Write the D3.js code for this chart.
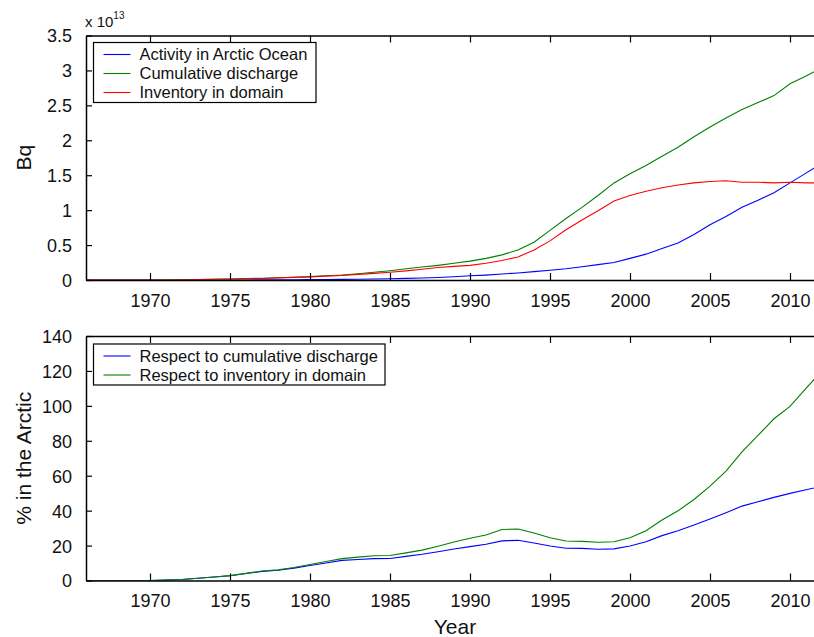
<!DOCTYPE html>
<html>
<head>
<meta charset="utf-8">
<script src="https://cdn.jsdelivr.net/npm/d3@7"></script>
<style>
  body { margin: 0; background: #fff; }
  svg { display: block; font-family: "Liberation Sans", Arial, sans-serif; }
</style>
</head>
<body>
<div id="chart"></div>
<script>
// годы наблюдений
const years = d3.range(1966, 2013);

// верхний график, единицы 1e13 Bq
const activityArctic = [
  0, 0, 0, 0, 0, 0, 0, 0, 0, 0,
  0.001, 0.002, 0.003, 0.004, 0.005, 0.007, 0.009, 0.011, 0.014, 0.018,
  0.023, 0.028, 0.035, 0.047, 0.06, 0.07, 0.085, 0.10, 0.12, 0.14,
  0.16, 0.19, 0.22, 0.25, 0.31, 0.37, 0.45, 0.53, 0.65, 0.79,
  0.91, 1.04, 1.14, 1.25, 1.39, 1.53, 1.67
];
const cumulativeDischarge = [
  0, 0, 0, 0, 0, 0, 0.005, 0.008, 0.011, 0.014,
  0.02, 0.026, 0.033, 0.04, 0.048, 0.06, 0.072, 0.09, 0.11, 0.133,
  0.16, 0.185, 0.21, 0.24, 0.27, 0.31, 0.36, 0.43, 0.54, 0.71,
  0.88, 1.04, 1.21, 1.39, 1.52, 1.64, 1.77, 1.90, 2.05, 2.19,
  2.32, 2.44, 2.54, 2.64, 2.81, 2.92, 3.04
];
const inventoryDomain = [
  0, 0, 0, 0, 0, 0, 0, 0.005, 0.01, 0.014,
  0.018, 0.022, 0.03, 0.038, 0.045, 0.055, 0.065, 0.08, 0.095, 0.11,
  0.13, 0.155, 0.18, 0.195, 0.21, 0.24, 0.28, 0.33, 0.43, 0.56,
  0.72, 0.86, 0.99, 1.13, 1.21, 1.27, 1.32, 1.36, 1.39, 1.41,
  1.42, 1.40, 1.40, 1.39, 1.40, 1.39, 1.39
];

// нижний график, %
const pctCumulative = [
  0, 0, 0, 0, 0, 0.2, 0.6, 1.3, 2.0, 2.7,
  4.0, 5.2, 5.9, 7.1, 8.6, 10.0, 11.5, 12.0, 12.5, 12.6,
  13.8, 15.0, 16.5, 18.0, 19.4, 20.8, 22.7, 23.0, 21.5, 19.8,
  18.5, 18.4, 17.9, 18.1, 19.8, 22.2, 25.7, 28.5, 31.8, 35.2,
  38.8, 42.6, 45.1, 47.6, 49.9, 52.0, 54.0
];
const pctInventory = [
  0, 0, 0, 0, 0, 0.2, 0.6, 1.3, 2.0, 2.8,
  4.1, 5.4, 6.1, 7.4, 9.2, 10.9, 12.5, 13.4, 14.2, 14.3,
  15.8, 17.4, 19.6, 22.0, 24.2, 26.1, 29.2, 29.5, 27.2, 24.5,
  22.6, 22.4, 21.9, 22.2, 24.5, 28.5, 34.6, 39.9, 46.4, 54.0,
  62.6, 73.6, 83.1, 92.6, 99.7, 110.0, 120.0
];

const xTicks = [1970, 1975, 1980, 1985, 1990, 1995, 2000, 2005, 2010];
const topTicks = [0, 0.5, 1, 1.5, 2, 2.5, 3, 3.5];
const bottomTicks = [0, 20, 40, 60, 80, 100, 120, 140];

const topSeries = [
  { name: "Activity in Arctic Ocean", values: activityArctic, color: "#0000ff" },
  { name: "Cumulative discharge", values: cumulativeDischarge, color: "#008000" },
  { name: "Inventory in domain", values: inventoryDomain, color: "#ff0000" }
];
const bottomSeries = [
  { name: "Respect to cumulative discharge", values: pctCumulative, color: "#0000ff" },
  { name: "Respect to inventory in domain", values: pctInventory, color: "#008000" }
];

const width = 814, height = 637;
const svg = d3.select("#chart").append("svg")
  .attr("width", width)
  .attr("height", height);

const x = d3.scaleLinear().domain([1966, 2012]).range([86, 822]);

function drawPanel(opts) {
  const y = d3.scaleLinear().domain(opts.domain).range([opts.bottom, opts.top]);
  const g = svg.append("g");
  const clipId = "clip-" + opts.id;

  g.append("clipPath").attr("id", clipId)
    .append("rect")
    .attr("x", x.range()[0]).attr("y", opts.top)
    .attr("width", x.range()[1] - x.range()[0])
    .attr("height", opts.bottom - opts.top);

  const line = d3.line()
    .x((d, i) => x(years[i]))
    .y(d => y(d));

  g.append("g").attr("clip-path", `url(#${clipId})`)
    .selectAll("path")
    .data(opts.series)
    .join("path")
    .attr("fill", "none")
    .attr("stroke", d => d.color)
    .attr("stroke-width", 1.1)
    .attr("d", d => line(d.values));

  // оси в стиле matlab: тики внутрь
  const axisBottom = g.append("g")
    .attr("transform", `translate(0,${opts.bottom})`)
    .call(d3.axisBottom(x).tickValues(xTicks).tickSizeInner(-7).tickSizeOuter(0).tickPadding(14).tickFormat(d3.format("d")));
  const axisTop = g.append("g")
    .attr("transform", `translate(0,${opts.top})`)
    .call(d3.axisTop(x).tickValues(xTicks).tickSizeInner(-7).tickSizeOuter(0).tickFormat(""));
  const axisLeft = g.append("g")
    .attr("transform", `translate(${x.range()[0]},0)`)
    .call(d3.axisLeft(y).tickValues(opts.ticks).tickSizeInner(-6).tickSizeOuter(0).tickPadding(14).tickFormat(d => d));

  [axisBottom, axisTop, axisLeft].forEach(a => {
    a.select(".domain").attr("stroke", "#000").attr("stroke-width", 1.5);
    a.selectAll(".tick line").attr("stroke", "#000").attr("stroke-width", 1.2);
    a.selectAll("text").attr("font-size", 18).attr("fill", "#111")
      .attr("font-family", "'Liberation Sans', Arial, sans-serif");
  });
  axisBottom.selectAll("text").attr("dy", "0.71em");
  axisLeft.selectAll("text").attr("dy", "0.36em");

  // подпись оси Y
  g.append("text")
    .attr("transform", `translate(${opts.labelX},${(opts.top + opts.bottom) / 2}) rotate(-90)`)
    .attr("text-anchor", "middle")
    .attr("font-size", 21)
    .attr("fill", "#111")
    .text(opts.label);

  // легенда
  const lg = opts.legend;
  const leg = g.append("g");
  leg.append("rect")
    .attr("x", lg.x).attr("y", lg.y)
    .attr("width", lg.w).attr("height", lg.h)
    .attr("fill", "#fff").attr("stroke", "#000").attr("stroke-width", 1.2);
  opts.series.forEach((s, i) => {
    const cy = lg.y + 12 + i * 19;
    leg.append("line")
      .attr("x1", lg.x + 10).attr("x2", lg.x + 37)
      .attr("y1", cy).attr("y2", cy)
      .attr("stroke", s.color).attr("stroke-width", 1.1);
    leg.append("text")
      .attr("x", lg.x + 46).attr("y", cy)
      .attr("dy", "0.36em")
      .attr("font-size", 16.5)
      .attr("fill", "#111")
      .text(s.name);
  });
  return g;
}

const topPanel = drawPanel({
  id: "top", top: 35.5, bottom: 280, domain: [0, 3.5], ticks: topTicks,
  series: topSeries, label: "Bq", labelX: 31,
  legend: { x: 93.5, y: 42.5, w: 222.5, h: 60 }
});

// множитель x 10^13
const mult = topPanel.append("text")
  .attr("x", 85).attr("y", 27)
  .attr("font-size", 15)
  .attr("fill", "#111");
mult.append("tspan").text("x 10");
mult.append("tspan").attr("dy", -8).attr("font-size", 10).text("13");

drawPanel({
  id: "bottom", top: 336, bottom: 580.5, domain: [0, 140], ticks: bottomTicks,
  series: bottomSeries, label: "% in the Arctic", labelX: 31,
  legend: { x: 93.5, y: 344, w: 291.5, h: 41 }
});

// подпись оси X
svg.append("text")
  .attr("x", 455).attr("y", 634)
  .attr("text-anchor", "middle")
  .attr("font-size", 21)
  .attr("fill", "#111")
  .text("Year");
</script>
</body>
</html>
